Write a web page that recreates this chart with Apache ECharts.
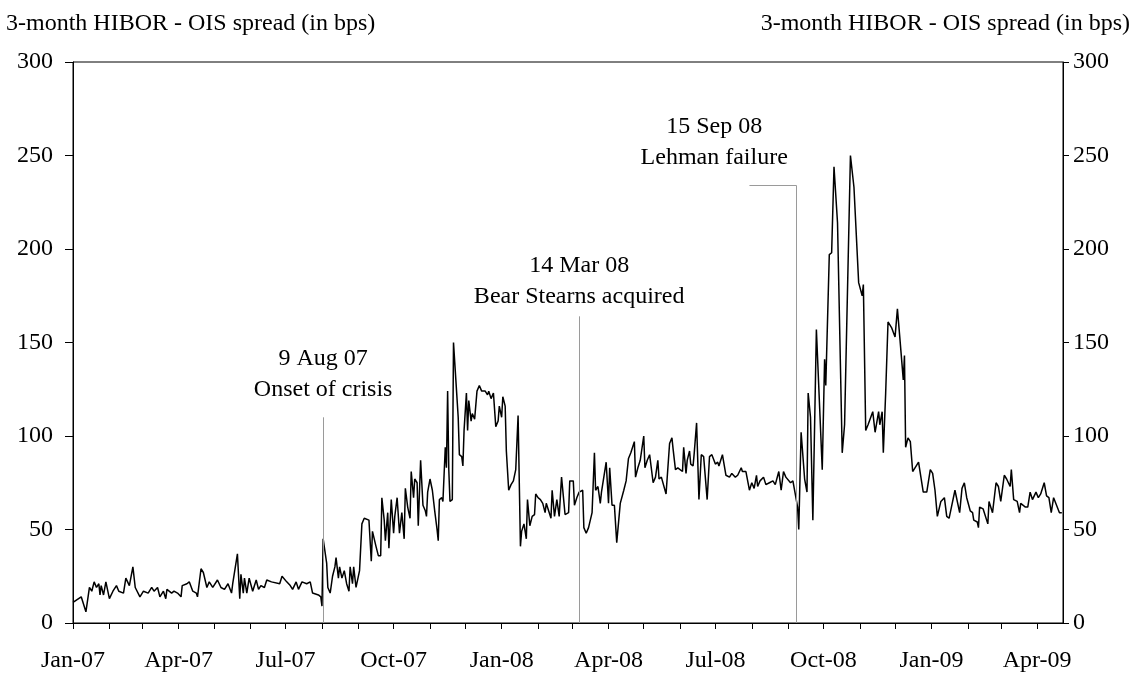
<!DOCTYPE html>
<html><head><meta charset="utf-8">
<script src="https://cdn.jsdelivr.net/npm/echarts@6/dist/echarts.min.js"></script>
<style>html,body{margin:0;padding:0;background:#fff}#c{width:1132px;height:675px}</style>
</head><body><div id="c"></div>
<script>
// ---- data ----
// x: days since 1 Jan 2007, y: 3-month HIBOR - OIS spread in bps
const days = [7,14,18,21,23,25,27,29,30,31,33,35,38,41,44,46,50,52,55,58,60,64,67,71,74,76,79,81,84,86,87,91,93,96,99,100,104,106,109,112,113,116,118,121,123,126,130,133,136,139,142,143,147,149,150,152,153,155,157,160,163,165,167,170,172,176,183,185,189,192,194,197,199,202,206,209,211,216,218,219,220,223,224,226,228,230,231,233,234,236,238,240,242,243,245,246,248,251,253,255,259,260,261,262,265,267,269,270,272,273,275,276,278,280,281,283,285,287,289,290,292,294,295,297,298,300,301,303,305,307,308,309,311,313,315,317,318,319,321,322,324,325,326,327,328,330,331,333,335,336,338,339,340,342,343,344,346,347,349,351,353,355,358,360,361,363,365,367,369,370,372,373,375,376,378,380,382,384,386,388,389,391,393,394,396,398,400,401,403,405,407,409,410,412,414,415,417,419,421,423,426,429,430,433,434,436,438,441,442,444,446,449,451,452,454,456,457,461,463,464,466,468,470,473,476,478,480,482,485,486,488,490,493,494,496,498,501,503,505,506,508,512,515,517,518,520,522,526,527,529,530,532,533,535,536,538,540,542,544,547,549,551,554,556,557,560,563,566,568,571,573,576,577,580,583,585,587,589,590,592,595,597,600,603,605,608,610,612,614,618,620,622,624,625,627,630,632,633,635,637,640,645,647,648,651,653,655,658,662,664,669,672,676,679,680,682,684,688,690,693,694,696,697,699,701,704,707,709,711,714,715,716,718,720,722,727,731,734,737,739,741,743,746,749,751,753,755,758,762,764,766,768,771,773,774,777,778,779,782,786,787,790,793,795,797,800,802,805,806,808,811,813,814,818,820,822,824,827,829,831,834,836,838,840,842,847,849];
const spread = [11,14,6,19,17,22,19,21,15,20,15,22,13,17,20,17,16,24,20,30,19,14,17,16,19,17,19,14,17,13,18,16,17,16,14,20,21,22,17,16,14,29,27,19,22,19,23,19,18,21,16,21,37,13,26,16,24,16,24,17,23,18,20,19,23,22,21,25,22,20,18,22,18,22,21,22,16,15,14,9,45,32,19,16,25,30,35,24,30,24,28,21,17,30,21,30,19,28,53,56,55,44,33,49,41,36,36,67,55,44,59,40,66,48,57,67,48,59,45,72,62,56,81,67,77,75,52,87,63,60,57,70,77,71,60,50,44,66,67,65,94,83,124,82,65,66,150,130,110,90,89,84,103,123,103,119,108,112,109,124,127,124,124,122,124,120,123,105,108,116,110,121,116,92,71,74,76,82,111,41,49,53,45,66,52,57,58,69,67,66,64,59,64,60,56,71,57,66,57,78,58,59,76,76,63,67,70,71,51,48,51,59,91,71,73,64,70,86,64,83,63,63,43,64,71,76,88,91,97,78,83,87,100,83,87,90,75,78,87,77,78,69,96,99,93,82,83,81,94,80,87,92,85,84,91,107,66,90,89,66,89,90,85,86,84,90,79,78,80,78,79,83,81,81,71,75,72,79,73,76,78,74,75,76,74,81,71,81,78,75,76,69,62,50,102,77,70,123,110,55,157,82,141,127,197,198,244,214,91,106,250,233,182,175,181,103,106,113,102,113,106,113,91,123,161,158,153,168,153,130,143,94,99,97,81,86,70,70,82,80,71,57,65,67,57,56,62,71,59,72,75,67,60,59,55,54,51,62,61,53,65,59,75,73,65,79,77,73,82,66,65,59,64,62,62,70,66,70,67,69,75,68,67,59,67,59,59];
const eventDays = [220, 438, 623];           // 9 Aug 07, 14 Mar 08, 15 Sep 08
const eventLabels = ['9 Aug 07\nOnset of crisis', '14 Mar 08\nBear Stearns acquired', '15 Sep 08\nLehman failure'];
const yTicks = [0, 50, 100, 150, 200, 250, 300];
const monthNames = ['Jan','Feb','Mar','Apr','May','Jun','Jul','Aug','Sep','Oct','Nov','Dec'];
const axisTitle = '3-month HIBOR - OIS spread (in bps)';

// ---- layout ----
const FONT = '"Liberation Serif","Times New Roman",serif';
const TICK_LAG = 7;      // the original's month ticks sit one week right of the data dates
const SPAN = 843;        // visible span in days
const monthTicks = [], quarterTicks = [], labelOf = {};
for (let y = 2007; y <= 2009; y++) for (let m = 0; m < 12; m++) {
  const d = (Date.UTC(y, m, 1) - Date.UTC(2007, 0, 1)) / 864e5;
  if (d > SPAN) break;
  const v = d + TICK_LAG;
  monthTicks.push(v);
  if (m % 3 === 0) { quarterTicks.push(v); labelOf[v] = monthNames[m] + '-' + String(y).slice(2); }
}

const chart = echarts.init(document.getElementById('c'), null, {renderer: 'canvas'});
const txt = {color: '#000', fontFamily: FONT, fontSize: 24};
const yAxisCommon = {
  type: 'value', min: yTicks[0], max: yTicks[yTicks.length - 1], interval: yTicks[1] - yTicks[0],
  axisLine: {show: true, lineStyle: {color: '#000', width: 1}},
  splitLine: {show: false}
};
chart.setOption({
  animation: false,
  backgroundColor: '#fff',
  title: [
    {text: axisTitle, left: 6, top: 12, padding: 0, textStyle: Object.assign({fontWeight: 'normal'}, txt)},
    {text: axisTitle, right: 2, top: 12, padding: 0, textStyle: Object.assign({fontWeight: 'normal'}, txt)}
  ],
  grid: {left: 73, right: 69, top: 62, bottom: 52, show: true, borderColor: '#000', borderWidth: 1, backgroundColor: 'transparent'},
  xAxis: {
    type: 'value', min: TICK_LAG, max: SPAN + TICK_LAG,
    axisLine: {show: true, onZero: false, lineStyle: {color: '#000', width: 1}},
    axisTick: {show: true, length: 6, customValues: monthTicks, lineStyle: {color: '#000'}},
    axisLabel: Object.assign({margin: 26, customValues: quarterTicks, formatter: v => labelOf[v] || ''}, txt),
    splitLine: {show: false}
  },
  yAxis: [
    Object.assign({position: 'left', axisTick: {show: true, length: 8, lineStyle: {color: '#000'}},
      axisLabel: Object.assign({margin: 20}, txt)}, yAxisCommon),
    Object.assign({position: 'right', axisTick: {show: true, length: 6, lineStyle: {color: '#000'}},
      axisLabel: Object.assign({margin: 10}, txt)}, yAxisCommon)
  ],
  series: [{
    type: 'line',
    data: days.map((d, i) => [d, spread[i]]),
    showSymbol: false,
    lineStyle: {color: '#000', width: 1.5},
    itemStyle: {color: '#000'},
    markLine: {
      silent: true, symbol: ['none', 'none'], animation: false,
      label: {show: false},
      lineStyle: {color: '#9a9a9a', width: 1, type: 'solid'},
      emphasis: {disabled: true},
      data: [
        [{coord: [eventDays[0], 0]}, {coord: [eventDays[0], 110]}],
        [{coord: [eventDays[1], 0]}, {coord: [eventDays[1], 164]}],
        [{coord: [eventDays[2], 0]}, {coord: [eventDays[2], 234]}],
        [{coord: [583, 234]}, {coord: [eventDays[2], 234]}]
      ]
    },
    markPoint: {
      silent: true, symbol: 'rect', symbolSize: 1, itemStyle: {color: 'rgba(0,0,0,0)'},
      label: Object.assign({show: true, position: 'inside', formatter: '{b}', lineHeight: 31, align: 'center'}, txt),
      data: [
        {name: eventLabels[0], coord: [eventDays[0], 133]},
        {name: eventLabels[1], coord: [eventDays[1], 183]},
        {name: eventLabels[2], coord: [553, 257]}
      ]
    }
  }]
});
</script></body></html>
